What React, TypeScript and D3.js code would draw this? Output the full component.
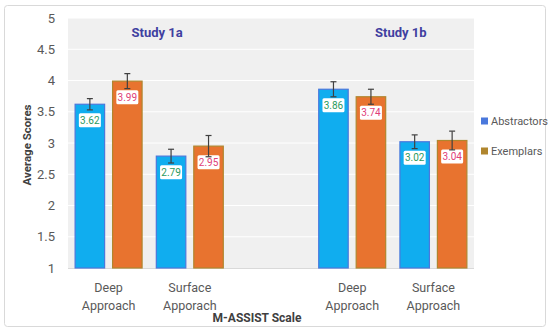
import React from "react";
import * as d3 from "d3";

// chart values
const slots = ["0", "1", "2", "3", "4"]; // slot 2 is the empty gap between studies
const slotLabels = [["Deep", "Approach"], ["Surface", "Apporach"], [], ["Deep", "Approach"], ["Surface", "Approach"]];
const barSlots = ["0", "1", "3", "4"];
const studies = ["Study 1a", "Study 1b"];
const studySlots = [["0", "1"], ["3", "4"]];
const series = ["Abstractors", "Exemplars"];
const abstractors = [3.62, 2.79, 3.86, 3.02];
const exemplars = [3.99, 2.95, 3.74, 3.04];
const abstractorsErr = [0.09, 0.11, 0.12, 0.11];
const exemplarsErr = [0.12, 0.17, 0.12, 0.15];
const yTicks = [1, 1.5, 2, 2.5, 3, 3.5, 4, 4.5, 5];

const W = 550;
const H = 332;
const plot = { left: 68, right: 474, top: 18, bottom: 268 };
const font = "Roboto, 'Noto Sans', sans-serif";

const fills = ["#10adef", "#e8732f"];
const strokes = ["#4a78dc", "#b0862e"];
const labelColors = ["#2b9a5e", "#e0407a"];

export default function App() {
  const x = d3.scaleBand<string>().domain(slots).range([plot.left, plot.right]);
  const xs = d3
    .scaleBand<string>()
    .domain(series)
    .range([0, x.bandwidth()])
    .paddingInner(0.213)
    .paddingOuter(0.19);
  const y = d3.scaleLinear().domain([1, 5]).range([plot.bottom, plot.top]);

  const values = [abstractors, exemplars];
  const errs = [abstractorsErr, exemplarsErr];

  return (
    <svg
      width={W}
      height={H}
      style={{ position: "absolute", left: 0, top: 0, fontFamily: font }}
    >
      <rect x={0} y={0} width={W} height={H} fill="#fff" />
      <rect x={4.5} y={5.5} width={541} height={321} rx={3} fill="#fff" stroke="#d9d9d9" />

      {/* plot background and grid */}
      <rect
        x={plot.left}
        y={plot.top}
        width={plot.right - plot.left}
        height={plot.bottom - plot.top}
        fill="#f0f0f0"
      />
      {yTicks.map((t) => (
        <g key={t}>
          {t > 1 && (
            <line x1={plot.left} x2={plot.right} y1={y(t)} y2={y(t)} stroke="#fff" strokeWidth={1} />
          )}
          <text
            x={55}
            y={y(t)}
            dy="0.35em"
            textAnchor="end"
            fontSize={13}
            fill="#595959"
          >
            {t}
          </text>
        </g>
      ))}
      <line x1={plot.left} x2={plot.right} y1={plot.bottom + 0.5} y2={plot.bottom + 0.5} stroke="#d9d9d9" />

      {/* study titles */}
      {studies.map((s, i) => {
        const cx = (x(studySlots[i][0])! + x(studySlots[i][1])! + x.bandwidth()) / 2 + 8;
        return (
          <text key={s} x={cx} y={37} textAnchor="middle" fontSize={13} fontWeight="bold" fill="#4040a0">
            {s}
          </text>
        );
      })}

      {/* bars */}
      {series.map((s, si) =>
        barSlots.map((slot, i) => {
          const v = values[si][i];
          const e = errs[si][i];
          const bx = x(slot)! + xs(s)!;
          const bw = xs.bandwidth();
          const cx = bx + bw / 2;
          return (
            <g key={s + slot}>
              <rect
                x={bx}
                y={y(v)}
                width={bw}
                height={y(1) - y(v)}
                fill={fills[si]}
                stroke={strokes[si]}
                strokeWidth={1.2}
              />
              <rect x={cx - 11} y={y(v) + 9} width={22} height={14} rx={1.5} fill="#fff" />
              <text x={cx} y={y(v) + 16} dy="0.35em" textAnchor="middle" fontSize={10} fill={labelColors[si]}>
                {v.toFixed(2)}
              </text>
              <g stroke="#404040" strokeWidth={1.2}>
                <line x1={cx} x2={cx} y1={y(v + e)} y2={y(v - e)} />
                <line x1={cx - 3} x2={cx + 3} y1={y(v + e)} y2={y(v + e)} />
                <line x1={cx - 3} x2={cx + 3} y1={y(v - e)} y2={y(v - e)} />
              </g>
            </g>
          );
        })
      )}

      {/* x labels */}
      {slots.map((slot, i) => (
        <text key={slot} textAnchor="middle" fontSize={12.5} fill="#595959">
          {slotLabels[i].map((l, j) => (
            <tspan key={j} x={x(slot)! + x.bandwidth() / 2} y={292 + j * 17.5}>
              {l}
            </tspan>
          ))}
        </text>
      ))}

      <text x={257} y={322} textAnchor="middle" fontSize={12} fontWeight="bold" fill="#404040">
        M-ASSIST Scale
      </text>
      <text
        transform={`translate(31,${(plot.top + plot.bottom) / 2 + 2}) rotate(-90)`}
        textAnchor="middle"
        fontSize={11.5}
        fontWeight="bold"
        fill="#404040"
      >
        Average Scores
      </text>

      {/* legend */}
      {series.map((s, i) => (
        <g key={s} transform={`translate(481,${121 + i * 30})`}>
          <rect x={0} y={-3.5} width={7} height={7} fill={strokes[i]} />
          <text x={10} y={0} dy="0.35em" fontSize={11} fill="#595959">
            {s}
          </text>
        </g>
      ))}
    </svg>
  );
}
